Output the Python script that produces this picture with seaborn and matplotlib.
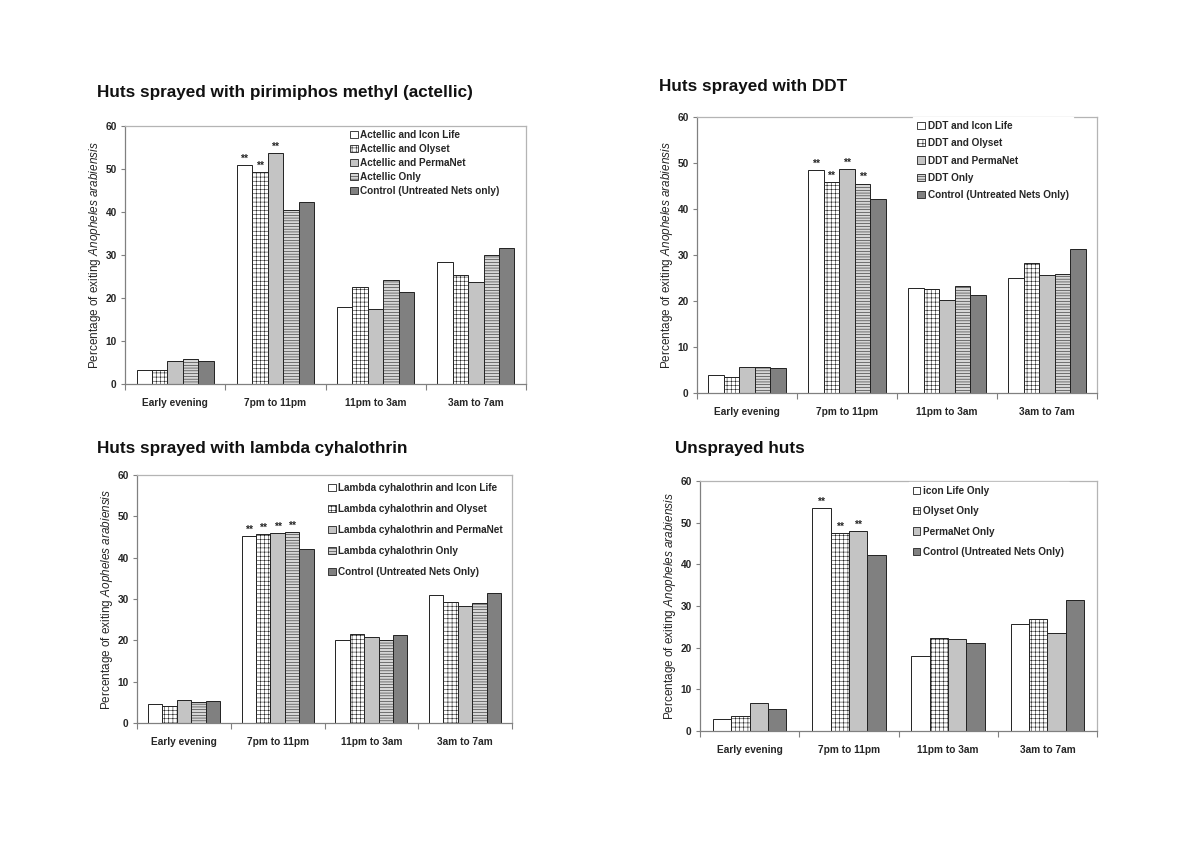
import matplotlib
matplotlib.use("Agg")
import matplotlib.pyplot as plt
from matplotlib.patches import Patch
import pandas as pd
import seaborn as sns

# ---- data -------------------------------------------------------------
categories = ["Early evening", "7pm to 11pm", "11pm to 3am", "3am to 7am"]

actellic_labels = ["Actellic and Icon Life", "Actellic and Olyset", "Actellic and PermaNet",
                   "Actellic Only", "Control (Untreated Nets only)"]
actellic_values = [
    [3.2, 50.9, 17.8, 28.4],
    [3.2, 49.2, 22.6, 25.4],
    [5.4, 53.7, 17.4, 23.7],
    [5.7, 40.4, 24.3, 29.9],
    [5.4, 42.3, 21.3, 31.7],
]
actellic_stars = [1, 1, 1, 0, 0]

ddt_labels = ["DDT and Icon Life", "DDT and Olyset", "DDT and PermaNet",
              "DDT Only", "Control (Untreated Nets Only)"]
ddt_values = [
    [4.0, 48.4, 22.8, 25.1],
    [3.5, 45.9, 22.7, 28.3],
    [5.7, 48.7, 20.3, 25.6],
    [5.7, 45.5, 23.3, 25.9],
    [5.5, 42.2, 21.2, 31.4],
]
ddt_stars = [1, 1, 1, 1, 0]

lambda_labels = ["Lambda cyhalothrin and Icon Life", "Lambda cyhalothrin and Olyset",
                 "Lambda cyhalothrin and PermaNet", "Lambda cyhalothrin Only",
                 "Control (Untreated Nets Only)"]
lambda_values = [
    [4.6, 45.2, 20.0, 30.9],
    [4.0, 45.7, 21.6, 29.3],
    [5.6, 45.9, 20.9, 28.4],
    [5.2, 46.2, 20.0, 29.0],
    [5.4, 42.2, 21.4, 31.5],
]
lambda_stars = [1, 1, 1, 1, 0]

unsprayed_labels = ["icon Life Only", "Olyset Only", "PermaNet Only",
                    "Control (Untreated Nets Only)"]
unsprayed_values = [
    [3.0, 53.6, 18.1, 25.6],
    [3.5, 47.6, 22.4, 26.9],
    [6.7, 48.0, 22.0, 23.6],
    [5.3, 42.3, 21.2, 31.5],
]
unsprayed_stars = [1, 1, 1, 0]

# fill / hatch per series
styles5 = [("white", ""), ("white", "++++"), ("#c4c4c4", ""), ("#d6d6d6", "------"), ("#808080", "")]
styles4 = [("white", ""), ("white", "++++"), ("#c4c4c4", ""), ("#808080", "")]

# ---- style ------------------------------------------------------------
sns.set_theme(style="ticks")
plt.rcParams["font.family"] = ["Liberation Sans", "DejaVu Sans"]
plt.rcParams["mathtext.fontset"] = "custom"
plt.rcParams["mathtext.rm"] = "Liberation Sans"
plt.rcParams["mathtext.it"] = "Liberation Sans:italic"
plt.rcParams["hatch.linewidth"] = 0.4
EDGE = "#222222"
TXT = "#262626"

fig = plt.figure(figsize=(12, 8.48), dpi=100)


def px_axes(l, t, r, b):
    W, H = 1200, 848
    return fig.add_axes([l / W, 1 - b / H, (r - l) / W, (b - t) / H])


def draw_panel(ax, title, title_xy, labels, values, stars, styles, ylabel,
               leg_xy, spacing, width, cover_top):
    rows = []
    for lab, vals in zip(labels, values):
        for cat, v in zip(categories, vals):
            rows.append({"period": cat, "pct": v, "series": lab})
    df = pd.DataFrame(rows)
    sns.barplot(data=df, x="period", y="pct", hue="series", order=categories,
                hue_order=labels, palette=[s[0] for s in styles], width=width,
                edgecolor=EDGE, linewidth=0.7, saturation=1, ax=ax, legend=False)
    for cont, (fc, h) in zip(ax.containers, styles):
        for bar in cont:
            bar.set_facecolor(fc)
            bar.set_hatch(h)

    # significance marks on 7pm to 11pm bars
    for cont, flag in zip(ax.containers, stars):
        if flag:
            bar = cont[1]
            ax.text(bar.get_x() + bar.get_width() / 2, bar.get_height() + 0.3, "**",
                    ha="center", va="bottom", fontsize=7.5, fontweight="bold", color=TXT)

    ax.set_ylim(0, 60)
    ax.set_xlim(-0.5, 3.5)
    ax.set_yticks(range(0, 61, 10))
    ax.set_xticks([-0.5, 0.5, 1.5, 2.5, 3.5], minor=True)
    ax.tick_params(axis="x", which="major", length=0, pad=10, labelsize=7.3, labelcolor=TXT)
    ax.tick_params(axis="x", which="minor", length=4, color="#808080", width=0.8)
    ax.tick_params(axis="y", length=3, color="#808080", width=0.8, pad=3,
                   labelsize=7.3, labelcolor=TXT)
    for lab in ax.get_xticklabels() + ax.get_yticklabels():
        lab.set_fontweight("bold")
    ax.set_xlabel("")
    ax.set_ylabel(ylabel, fontsize=8.5, color=TXT, labelpad=2)
    for side in ["left", "bottom"]:
        ax.spines[side].set_color("#808080")
        ax.spines[side].set_linewidth(0.9)
    for side in ["top", "right"]:
        ax.spines[side].set_visible(True)
        ax.spines[side].set_color("#b4b4b4")
        ax.spines[side].set_linewidth(0.9)

    handles = [Patch(facecolor=fc, hatch=h, edgecolor=EDGE, linewidth=0.6, label=lab)
               for lab, (fc, h) in zip(labels, styles)]
    leg = ax.legend(handles=handles, loc="upper left",
                    bbox_to_anchor=(leg_xy[0] / 1200, 1 - leg_xy[1] / 848),
                    bbox_transform=fig.transFigure, frameon=cover_top,
                    facecolor="white", edgecolor="white", framealpha=1, fancybox=False,
                    borderpad=0.4, handlelength=0.75, handleheight=0.75,
                    handletextpad=0.3, labelspacing=spacing, borderaxespad=0,
                    prop={"weight": "bold", "size": 7.2})
    for t in leg.get_texts():
        t.set_color(TXT)
    leg.set_zorder(5)

    fig.text(title_xy[0] / 1200, 1 - title_xy[1] / 848, title, fontsize=12.3,
             fontweight="bold", ha="left", va="center", color="#111")


ylab_an = r"Percentage of exiting $\mathit{Anopheles\ arabiensis}$"
ylab_ao = r"Percentage of exiting $\mathit{Aopheles\ arabiensis}$"

ax1 = px_axes(125, 126, 526, 384)
draw_panel(ax1, "Huts sprayed with pirimiphos methyl (actellic)", (97, 93),
           actellic_labels, actellic_values, actellic_stars, styles5, ylab_an,
           (346, 126), 0.4, 0.77, False)

ax2 = px_axes(697, 117, 1097, 393)
draw_panel(ax2, "Huts sprayed with DDT", (659, 86),
           ddt_labels, ddt_values, ddt_stars, styles5, ylab_an,
           (913, 117), 0.73, 0.78, True)

ax3 = px_axes(137, 475, 512, 723)
draw_panel(ax3, "Huts sprayed with lambda cyhalothrin", (97, 448),
           lambda_labels, lambda_values, lambda_stars, styles5, ylab_ao,
           (324, 479), 1.1, 0.77, False)

ax4 = px_axes(700, 481, 1097, 731)
draw_panel(ax4, "Unsprayed huts", (675, 449),
           unsprayed_labels, unsprayed_values, unsprayed_stars, styles4, ylab_an,
           (909, 482), 1.03, 0.74, True)

fig.savefig("out.png", dpi=100, facecolor="white")
